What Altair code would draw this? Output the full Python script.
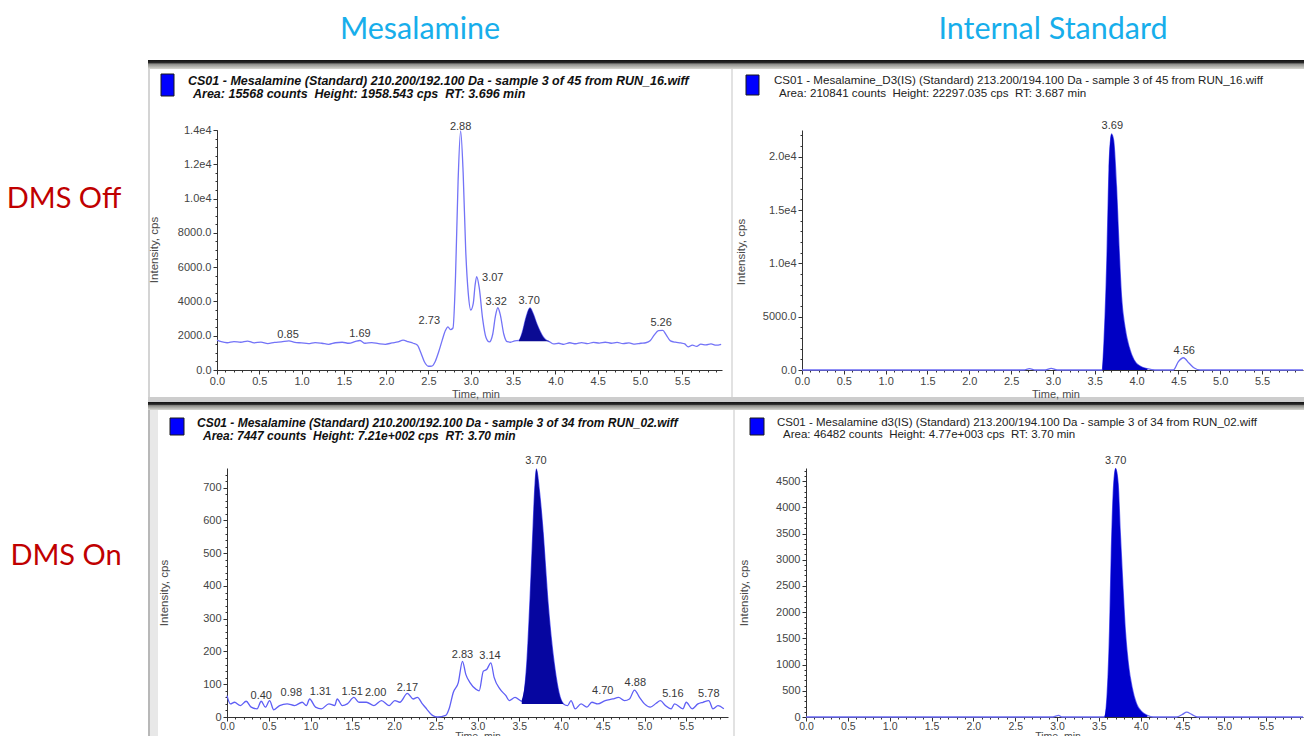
import altair as alt
import pandas as pd

W, H = 1296, 728
OX, OY = 8, 8

col_titles = ["Mesalamine", "Internal Standard"]
row_titles = ["DMS Off", "DMS On"]

# ---------------- Top-left: Mesalamine, DMS Off ----------------
tl_t = [0.00, 0.05, 0.12, 0.20, 0.28, 0.36, 0.44, 0.52, 0.60, 0.68, 0.76, 0.85, 0.92, 1.00, 1.08, 1.16,
        1.24, 1.32, 1.40, 1.48, 1.56, 1.63, 1.69, 1.75, 1.83, 1.91, 1.99, 2.07, 2.14, 2.20, 2.26, 2.32,
        2.37, 2.41, 2.45, 2.50, 2.54, 2.58, 2.62, 2.66, 2.70, 2.73, 2.76, 2.79, 2.82, 2.85, 2.88, 2.91,
        2.94, 2.97, 3.00, 3.03, 3.05, 3.07, 3.10, 3.14, 3.18, 3.22, 3.26, 3.29, 3.32, 3.35, 3.39, 3.43,
        3.47, 3.52, 3.57, 3.61, 3.65, 3.70, 3.74, 3.78, 3.82, 3.86, 3.90, 3.94, 3.98, 4.04, 4.10, 4.17,
        4.24, 4.31, 4.38, 4.45, 4.52, 4.59, 4.66, 4.73, 4.80, 4.87, 4.94, 5.01, 5.07, 5.12, 5.17, 5.22,
        5.27, 5.31, 5.36, 5.42, 5.48, 5.53, 5.57, 5.62, 5.67, 5.72, 5.78, 5.84, 5.90, 5.96]
tl_v = [1740, 1650, 1590, 1660, 1620, 1690, 1580, 1630, 1540, 1610, 1640, 1700, 1610, 1580, 1540, 1600,
        1560, 1500, 1590, 1620, 1560, 1650, 1720, 1560, 1600, 1540, 1500, 1580, 1640, 1740, 1650, 1560,
        1450, 1000, 500, 220, 230, 500, 1050, 1700, 2300, 2520, 2350, 2450, 5500, 11000, 13950, 11500,
        7000, 4500, 3500, 3900, 4900, 5450, 4800, 3000, 1900, 1640, 2100, 3100, 3630, 3200, 2100, 1650,
        1620, 1700, 1720, 2200, 3000, 3620, 3250, 2700, 2250, 1900, 1720, 1620, 1520, 1560, 1500, 1590,
        1530, 1600, 1540, 1610, 1570, 1620, 1560, 1610, 1540, 1580, 1510, 1560, 1590, 1700, 2050, 2300,
        2310, 2050, 1700, 1620, 1580, 1520, 1350, 1450, 1380, 1510, 1460, 1520, 1450, 1500]
tl_fill_t = [3.57, 3.61, 3.65, 3.70, 3.74, 3.78, 3.82, 3.86, 3.90, 3.93]
tl_fill_v = [1720, 2200, 3000, 3620, 3250, 2700, 2250, 1900, 1720, 1690]
tl_fill_base = 1680
tl_peak_text = ["0.85", "1.69", "2.73", "2.88", "3.07", "3.32", "3.70", "5.26"]
tl_peak_t = [0.84, 1.69, 2.51, 2.88, 3.26, 3.30, 3.69, 5.25]
tl_peak_v = [2050, 2100, 2860, 14190, 5350, 3990, 4050, 2720]
tl_yticks = [0, 2000, 4000, 6000, 8000, 10000, 12000, 14000]
tl_header = ["CS01 - Mesalamine (Standard) 210.200/192.100 Da - sample 3 of 45 from RUN_16.wiff",
             "Area: 15568 counts\u00a0 Height: 1958.543 cps\u00a0 RT: 3.696 min"]

# ---------------- Top-right: Internal Standard, DMS Off ----------------
tr_t = [0.00, 1.00, 2.00, 2.65, 2.72, 2.79, 2.91, 2.98, 3.05, 3.50, 3.59, 3.61, 3.645, 3.67, 3.70,
        3.725, 3.76, 3.79, 3.82, 3.86, 3.91, 3.97, 4.04, 4.13, 4.22, 4.44, 4.50, 4.56, 4.63, 4.69,
        4.76, 5.20, 5.99]
tr_v = [0, 0, 0, 0, 125, 0, 0, 156, 0, 0, 0, 2500, 10300, 18750, 22130,
        21560, 17190, 11560, 6870, 4060, 2190, 940, 375, 125, 0, 0, 780, 1150, 625, 187,
        0, 0, 0]
tr_fill_t = [3.59, 3.61, 3.645, 3.67, 3.70, 3.725, 3.76, 3.79, 3.82, 3.86, 3.91, 3.97, 4.04, 4.13]
tr_fill_v = [0, 2500, 10300, 18750, 22130, 21560, 17190, 11560, 6870, 4060, 2190, 940, 375, 125]
tr_fill_base = 0
tr_peak_text = ["3.69", "4.56"]
tr_peak_t = [3.71, 4.57]
tr_peak_v = [22900, 1780]
tr_yticks = [0, 5000, 10000, 15000, 20000]
tr_header = ["CS01 - Mesalamine_D3(IS) (Standard) 213.200/194.100 Da - sample 3 of 45 from RUN_16.wiff",
             "Area: 210841 counts\u00a0 Height: 22297.035 cps\u00a0 RT: 3.687 min"]

# ---------------- Bottom-left: Mesalamine, DMS On ----------------
bl_t = [0.00, 0.04, 0.09, 0.16, 0.23, 0.29, 0.36, 0.41, 0.46, 0.51, 0.56, 0.63, 0.72, 0.81, 0.90, 0.95,
        0.99, 1.06, 1.13, 1.22, 1.29, 1.32, 1.38, 1.44, 1.52, 1.58, 1.67, 1.76, 1.85, 1.94, 2.01, 2.07,
        2.16, 2.23, 2.28, 2.34, 2.39, 2.46, 2.52, 2.62, 2.66, 2.71, 2.77, 2.82, 2.86, 2.91, 2.98, 3.02,
        3.07, 3.11, 3.16, 3.20, 3.27, 3.34, 3.38, 3.45, 3.53, 3.59, 3.63, 3.66, 3.69, 3.705, 3.74, 3.786,
        3.84, 3.92, 3.99, 4.03, 4.08, 4.12, 4.17, 4.24, 4.31, 4.37, 4.44, 4.53, 4.62, 4.69, 4.76, 4.82,
        4.88, 4.94, 5.00, 5.07, 5.14, 5.19, 5.25, 5.32, 5.36, 5.46, 5.50, 5.57, 5.64, 5.70, 5.77, 5.82,
        5.88, 5.95]
bl_v = [65, 40, 45, 35, 48, 30, 25, 48, 30, 50, 22, 35, 40, 35, 45, 35,
        55, 30, 25, 40, 35, 55, 35, 40, 60, 45, 45, 35, 50, 35, 50, 45,
        72, 55, 60, 40, 25, 5, 0, 5, 25, 75, 105, 170, 130, 105, 85, 80,
        140, 145, 165, 120, 85, 65, 50, 60, 48, 160, 362, 543, 713, 757, 692, 562,
        362, 160, 60, 40, 35, 50, 25, 40, 30, 45, 40, 50, 55, 60, 50, 55,
        82, 60, 40, 30, 42, 50, 35, 25, 40, 25, 45, 25, 40, 45, 50, 25,
        35, 25]
bl_fill_t = [3.53, 3.59, 3.63, 3.66, 3.69, 3.705, 3.74, 3.786, 3.84, 3.92, 3.99, 4.03]
bl_fill_v = [48, 160, 362, 543, 713, 757, 692, 562, 362, 160, 60, 40]
bl_fill_base = 40
bl_peak_text = ["0.40", "0.98", "1.31", "1.51", "2.00", "2.17", "2.83", "3.14", "3.70", "4.70", "4.88", "5.16", "5.78"]
bl_peak_t = [0.41, 0.77, 1.12, 1.50, 1.78, 2.16, 2.82, 3.15, 3.70, 4.50, 4.89, 5.34, 5.77]
bl_peak_v = [63, 73, 75, 77, 73, 88, 188, 186, 781, 80, 104, 70, 70]
bl_yticks = [0, 100, 200, 300, 400, 500, 600, 700]
bl_header = ["CS01 - Mesalamine (Standard) 210.200/192.100 Da - sample 3 of 34 from RUN_02.wiff",
             "Area: 7447 counts\u00a0 Height: 7.21e+002 cps\u00a0 RT: 3.70 min"]

# ---------------- Bottom-right: Internal Standard, DMS On ----------------
br_t = [0.00, 1.00, 2.00, 2.95, 3.02, 3.06, 3.50, 3.567, 3.597, 3.628, 3.65, 3.672, 3.70, 3.73,
        3.756, 3.787, 3.817, 3.853, 3.897, 3.95, 4.016, 4.08, 4.15, 4.43, 4.50, 4.55, 4.61, 4.68,
        5.00, 5.94]
br_v = [0, 0, 0, 0, 31, 0, 0, 0, 377, 1634, 3204, 4272, 4744, 4461,
        3518, 2513, 1634, 1005, 565, 251, 94, 31, 0, 0, 50, 94, 50, 0,
        0, 0]
br_fill_t = [3.567, 3.597, 3.628, 3.65, 3.672, 3.70, 3.73, 3.756, 3.787, 3.817, 3.853, 3.897, 3.95, 4.016, 4.08]
br_fill_v = [0, 377, 1634, 3204, 4272, 4744, 4461, 3518, 2513, 1634, 1005, 565, 251, 94, 31]
br_fill_base = 0
br_peak_text = ["3.70"]
br_peak_t = [3.70]
br_peak_v = [4880]
br_yticks = [0, 500, 1000, 1500, 2000, 2500, 3000, 3500, 4000, 4500]
br_header = ["CS01 - Mesalamine d3(IS) (Standard) 213.200/194.100 Da - sample 3 of 34 from RUN_02.wiff",
             "Area: 46482 counts\u00a0 Height: 4.77e+003 cps\u00a0 RT: 3.70 min"]

x_ticks = [0.0, 0.5, 1.0, 1.5, 2.0, 2.5, 3.0, 3.5, 4.0, 4.5, 5.0, 5.5]
x_minor = [round(i * 0.1, 1) for i in range(60)]

FONT = "Liberation Sans"
AXC = "#333333"
LBLC = "#444444"


def vx(x):
    return x - OX


def vy(y):
    return y - OY


def panel(box, xmax, ymax, t, v, ft, fv, base, pt, pv, ptext, yticks, yminor,
          line_color, fill_color, ylabel_expr=None, yfmt=None, xlab_size=11, xlab_pad=1):
    x0, x1, y0, y1 = box
    xs = alt.Scale(domain=[0, xmax], range=[vx(x0), vx(x1)], nice=False, zero=False)
    ys = alt.Scale(domain=[0, ymax], range=[vy(y1), vy(y0)], nice=False, zero=False)
    xoff = vy(y1) - H
    yoff = -vx(x0)
    common = dict(grid=False, domainColor=AXC, tickColor=AXC, labelColor=LBLC, labelFont=FONT,
                  title=None)
    xmaj = alt.Axis(orient="bottom", offset=xoff, values=x_ticks, format=".1f", tickSize=4,
                    labelPadding=xlab_pad, labelFlush=False, labelFontSize=xlab_size, **common)
    xmin = alt.Axis(orient="bottom", offset=xoff, values=x_minor, labels=False, domain=False,
                    tickSize=2, **common)
    ykw = dict(orient="left", offset=yoff, values=yticks, tickSize=4, labelPadding=2,
               labelFontSize=11, **common)
    if ylabel_expr:
        ykw["labelExpr"] = ylabel_expr
    if yfmt:
        ykw["format"] = yfmt
    ymaj = alt.Axis(**ykw)
    ymin = alt.Axis(orient="left", offset=yoff, values=yminor, labels=False, domain=False,
                    tickSize=2, **common)

    line = alt.Chart(pd.DataFrame({"t": t, "v": v})).mark_line(
        color=line_color, strokeWidth=1.3, interpolate="monotone"
    ).encode(x=alt.X("t:Q", scale=xs, axis=xmaj), y=alt.Y("v:Q", scale=ys, axis=ymaj))
    area = alt.Chart(pd.DataFrame({"t": ft, "v": fv})).mark_area(
        color=fill_color, opacity=1, interpolate="monotone"
    ).encode(x=alt.X("t:Q", scale=xs, axis=xmin), y=alt.Y("v:Q", scale=ys, axis=ymin),
             y2=alt.datum(base))
    labels = alt.Chart(pd.DataFrame({"t": pt, "v": pv, "s": ptext})).mark_text(
        font=FONT, fontSize=11, color="#383838", baseline="middle", align="center"
    ).encode(x=alt.X("t:Q", scale=xs, axis=None), y=alt.Y("v:Q", scale=ys, axis=None), text="s:N")
    return alt.layer(line, area, labels).resolve_axis(x="independent", y="independent")


def txt(s, x, y, size, color, font=FONT, weight="normal", style="normal", align="left",
        baseline="middle", angle=0):
    kw = dict(font=font, fontSize=size, color=color, fontWeight=weight, fontStyle=style,
              align=align, baseline=baseline)
    if angle:
        kw["angle"] = angle
    return alt.Chart(pd.DataFrame({"s": [s]})).mark_text(**kw).encode(
        x=alt.value(vx(x)), y=alt.value(vy(y)), text="s:N")


def rect(x0, y0, x1, y1, color, stroke=None):
    kw = dict(color=color)
    if stroke:
        kw = dict(fill=color, stroke=stroke, strokeWidth=1)
    return alt.Chart(pd.DataFrame({"a": [0]})).mark_rect(**kw).encode(
        x=alt.value(vx(x0)), x2=alt.value(vx(x1)), y=alt.value(vy(y0)), y2=alt.value(vy(y1)))


def bar(y0, y1):
    grad = alt.LinearGradient(
        gradient="linear", x1=0, x2=0, y1=0, y2=1,
        stops=[alt.GradientStop(color="#111111", offset=0),
               alt.GradientStop(color="#2a2a2a", offset=0.3),
               alt.GradientStop(color="#8c8c88", offset=0.45),
               alt.GradientStop(color="#d8d8d2", offset=1)])
    return alt.Chart(pd.DataFrame({"a": [0]})).mark_rect(color=grad).encode(
        x=alt.value(vx(148)), x2=alt.value(vx(1304)), y=alt.value(vy(y0)), y2=alt.value(vy(y1)))


e4_expr = "datum.value >= 10000 ? format(datum.value / 10000, '.1f') + 'e4' : format(datum.value, '.1f')"

TL = panel((217, 722, 130, 370), 5.97, 14000, tl_t, tl_v, tl_fill_t, tl_fill_v, tl_fill_base,
           tl_peak_t, tl_peak_v, tl_peak_text, tl_yticks, list(range(0, 14001, 500)),
           "#7373f7", "#0b0b93", ylabel_expr=e4_expr)
TR = panel((802, 1303, 130, 370), 5.99, 22500, tr_t, tr_v, tr_fill_t, tr_fill_v, tr_fill_base,
           tr_peak_t, tr_peak_v, tr_peak_text, tr_yticks, list(range(0, 22001, 1000)),
           "#6b6bf5", "#0000c4", ylabel_expr=e4_expr)
BL = panel((227, 728, 468, 717), 6.0, 760, bl_t, bl_v, bl_fill_t, bl_fill_v, bl_fill_base,
           bl_peak_t, bl_peak_v, bl_peak_text, bl_yticks, list(range(0, 751, 20)),
           "#5f5ff5", "#0606a0", yfmt="d", xlab_size=10.5, xlab_pad=0)
BR = panel((806, 1303, 468, 717), 5.94, 4750, br_t, br_v, br_fill_t, br_fill_v, br_fill_base,
           br_peak_t, br_peak_v, br_peak_text, br_yticks, list(range(0, 4701, 100)),
           "#6b6bf5", "#0000cc", yfmt="d", xlab_size=10.5, xlab_pad=0)

decor = [
    bar(60, 69), bar(402, 410),
    rect(148, 69, 150, 398, "#d4d4d4"),
    rect(731, 69, 733, 398, "#e2e2e2"),
    rect(148, 397, 1304, 402, "#cdcdcd"),
    rect(148, 410, 158, 736, "#e8e8e8"),
    rect(148, 410, 150, 736, "#b8b8b8"),
    rect(733, 410, 735, 736, "#e2e2e2"),
    rect(161, 74, 174, 96, "#0000ff", stroke="#1a1a1a"),
    rect(746, 75, 759, 95, "#0000ff", stroke="#1a1a1a"),
    rect(170, 418, 184, 435, "#0000ff", stroke="#1a1a1a"),
    rect(750, 418, 764, 435, "#0000ff", stroke="#1a1a1a"),
]

TITLE_C = "#17AEEB"
ROW_C = "#C00000"
AT_C = "#4a4a4a"
texts = [
    txt(col_titles[0], 420, 38.5, 30.5, TITLE_C, font="Lato", align="center", baseline="alphabetic"),
    txt(col_titles[1], 1053, 38.5, 30.5, TITLE_C, font="Lato", align="center", baseline="alphabetic"),
    txt(row_titles[0], 64, 208, 29, ROW_C, font="Lato", align="center", baseline="alphabetic"),
    txt(row_titles[1], 66, 565, 29, ROW_C, font="Lato", align="center", baseline="alphabetic"),
    txt(tl_header[0], 188, 81, 12.5, "#111111", weight="bold", style="italic"),
    txt(tl_header[1], 193, 94, 12.5, "#111111", weight="bold", style="italic"),
    txt(tr_header[0], 774, 81, 11.6, "#222222"),
    txt(tr_header[1], 779, 94, 11.6, "#222222"),
    txt(bl_header[0], 197, 423, 12, "#111111", weight="bold", style="italic"),
    txt(bl_header[1], 203, 436, 12, "#111111", weight="bold", style="italic"),
    txt(br_header[0], 777, 423, 11.5, "#222222"),
    txt(br_header[1], 783, 435, 11.5, "#222222"),
    txt("Intensity, cps", 155, 250, 11.5, AT_C, align="center", angle=270),
    txt("Intensity, cps", 742, 252, 11.5, AT_C, align="center", angle=270),
    txt("Intensity, cps", 165, 593, 11.5, AT_C, align="center", angle=270),
    txt("Intensity, cps", 745, 593, 11.5, AT_C, align="center", angle=270),
    txt("Time, min", 476, 395, 11, AT_C, align="center"),
    txt("Time, min", 1056, 395, 11, AT_C, align="center"),
    txt("Time, min", 478, 731.5, 10.5, AT_C, align="center", baseline="top"),
    txt("Time, min", 1058, 731.5, 10.5, AT_C, align="center", baseline="top"),
]

chart = alt.layer(*decor, TL, TR, BL, BR, *texts).resolve_scale(
    x="independent", y="independent"
).resolve_axis(
    x="independent", y="independent"
).properties(
    width=W, height=H, padding=0, background="white",
    autosize=alt.AutoSizeParams(type="none")
).configure_view(stroke=None)

chart.save("out.html", embed_options={"renderer": "svg", "actions": False})
